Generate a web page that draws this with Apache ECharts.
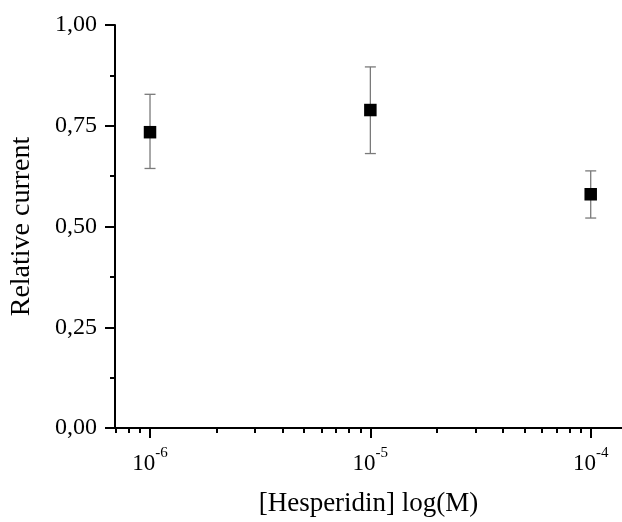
<!DOCTYPE html>
<html>
<head>
<meta charset="utf-8">
<script src="https://cdn.jsdelivr.net/npm/echarts@6/dist/echarts.min.js"></script>
<style>html,body{margin:0;padding:0;background:#fff}#c{width:622px;height:522px}</style>
</head>
<body>
<div id="c"></div>
<script>
// Data
const concentrations = [1e-6, 1e-5, 1e-4];
const relativeCurrent = [0.734, 0.789, 0.580];
const errUpper = [0.828, 0.896, 0.638];
const errLower = [0.644, 0.681, 0.521];
const yTicks = [0, 0.25, 0.5, 0.75, 1.0];
const xMajorExponents = [-6, -5, -4];

const lg = v => Math.log10(v);
const xMin = lg(7e-7) - 0.004;
const xMax = -3.858;

const minorTickVals = [];
for (let e = -7; e <= -4; e++) {
  for (let k = 2; k <= 9; k++) {
    const v = lg(k * Math.pow(10, e));
    if (v >= xMin && v <= xMax) minorTickVals.push(v);
  }
}

const font = '"Liberation Serif", "Times New Roman", serif';

const chart = echarts.init(document.getElementById('c'), null, {renderer: 'canvas'});
chart.setOption({
  backgroundColor: '#fff',
  animation: false,
  grid: {left: 115, right: 0, top: 25, bottom: 90, containLabel: false},
  xAxis: [
    {
      type: 'value', min: xMin, max: xMax, position: 'bottom',
      name: '[Hesperidin] log(M)', nameLocation: 'middle', nameGap: 62,
      nameTextStyle: {fontFamily: font, fontSize: 27, color: '#000'},
      axisLine: {show: true, onZero: false, lineStyle: {color: '#000', width: 2}},
      axisTick: {show: true, inside: false, length: 10, lineStyle: {color: '#000', width: 2}, customValues: xMajorExponents},
      axisLabel: {
        show: true, margin: 18, customValues: xMajorExponents,
        formatter: v => '{b|10}{s|' + Math.round(v) + '}',
        rich: {
          b: {fontFamily: font, fontSize: 23, color: '#000', verticalAlign: 'bottom'},
          s: {fontFamily: font, fontSize: 15, color: '#000', verticalAlign: 'top', padding: [0, 0, 14, 0]}
        }
      },
      splitLine: {show: false}
    },
    {
      type: 'value', min: xMin, max: xMax, position: 'bottom', offset: 0,
      axisLine: {show: false},
      axisTick: {show: true, inside: false, length: 5, lineStyle: {color: '#000', width: 2}, customValues: minorTickVals},
      axisLabel: {show: false},
      splitLine: {show: false}
    }
  ],
  yAxis: {
    type: 'value', min: 0, max: 1, interval: 0.25,
    name: 'Relative current', nameLocation: 'middle', nameGap: 79,
    nameTextStyle: {fontFamily: font, fontSize: 28, color: '#000'},
    axisLine: {show: true, lineStyle: {color: '#000', width: 2}},
    axisTick: {show: true, inside: false, length: 10, lineStyle: {color: '#000', width: 2}},
    minorTick: {show: true, splitNumber: 2, length: 5, lineStyle: {color: '#000', width: 2}},
    axisLabel: {
      margin: 18, fontFamily: font, fontSize: 24, color: '#000',
      formatter: v => v.toFixed(2).replace('.', ',')
    },
    splitLine: {show: false}
  },
  series: [
    {
      type: 'custom', xAxisIndex: 0, z: 2,
      data: concentrations.map((c, i) => [lg(c), errLower[i], errUpper[i]]),
      renderItem: (params, api) => {
        const x = api.value(0);
        const lo = api.coord([x, api.value(1)]);
        const hi = api.coord([x, api.value(2)]);
        const hw = 5.5;
        const style = {stroke: '#7a7a7a', lineWidth: 1.3};
        return {
          type: 'group',
          children: [
            {type: 'line', shape: {x1: lo[0], y1: lo[1], x2: hi[0], y2: hi[1]}, style},
            {type: 'line', shape: {x1: lo[0] - hw, y1: lo[1], x2: lo[0] + hw, y2: lo[1]}, style},
            {type: 'line', shape: {x1: hi[0] - hw, y1: hi[1], x2: hi[0] + hw, y2: hi[1]}, style}
          ]
        };
      }
    },
    {
      type: 'scatter', xAxisIndex: 0, z: 3,
      symbol: 'rect', symbolSize: 12.5,
      itemStyle: {color: '#000', opacity: 1},
      data: concentrations.map((c, i) => [lg(c), relativeCurrent[i]])
    }
  ]
});
</script>
</body>
</html>
